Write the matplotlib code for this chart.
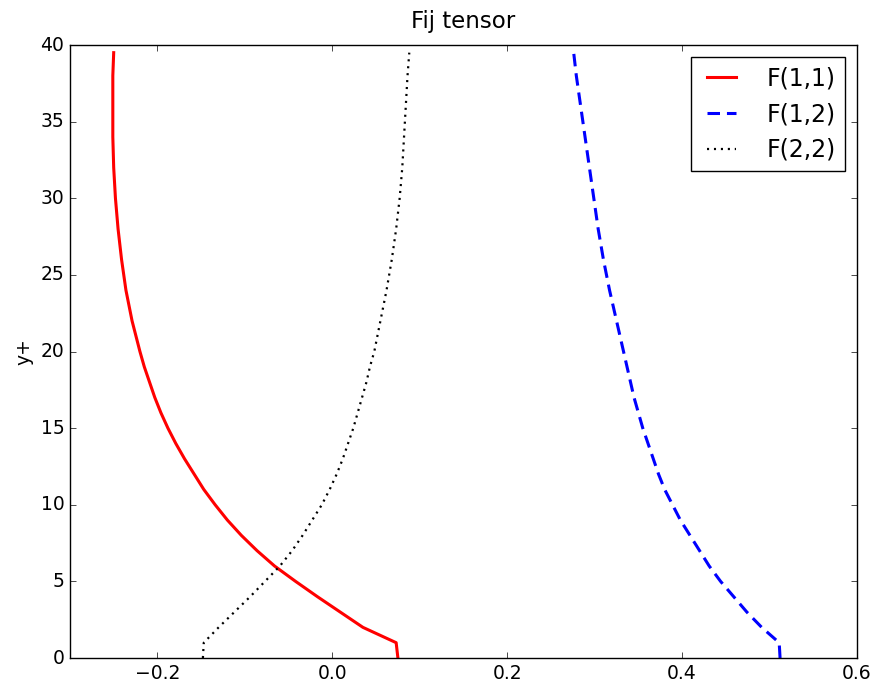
import matplotlib
matplotlib.use("Agg")
import matplotlib.pyplot as plt

# y+ positions and tensor components
yplus = [0, 1, 2, 3, 4, 5, 6, 7, 8, 9, 10, 11, 12, 13, 14, 15, 16, 17, 18, 19, 20,
         22, 24, 26, 28, 30, 32, 34, 36, 38, 39.5]
f11 = [0.075, 0.073, 0.035, 0.009, -0.017, -0.042, -0.066, -0.086, -0.104, -0.120,
       -0.134, -0.147, -0.158, -0.169, -0.179, -0.188, -0.196, -0.203, -0.209, -0.215,
       -0.220, -0.229, -0.236, -0.241, -0.245, -0.248, -0.250, -0.251, -0.251, -0.251, -0.250]
f12 = [0.512, 0.511, 0.491, 0.474, 0.459, 0.444, 0.431, 0.420, 0.409, 0.398,
       0.389, 0.380, 0.373, 0.367, 0.361, 0.355, 0.350, 0.345, 0.341, 0.337,
       0.333, 0.325, 0.317, 0.310, 0.304, 0.299, 0.294, 0.289, 0.284, 0.279, 0.276]
f22 = [-0.148, -0.147, -0.130, -0.112, -0.094, -0.077, -0.060, -0.046, -0.034, -0.023,
       -0.012, -0.003, 0.005, 0.012, 0.018, 0.024, 0.029, 0.034, 0.039, 0.043,
       0.048, 0.055, 0.062, 0.068, 0.073, 0.077, 0.080, 0.082, 0.084, 0.086, 0.088]

def main():
  plt.style.use("classic")
  fig = plt.figure(figsize=(8.79, 6.85), dpi=100, facecolor="white")
  ax = fig.add_axes([0.0796, 0.0394, 0.8954, 0.8949])
  ax.plot(f11, yplus, color="red", ls="-", lw=2.2, label="F(1,1)")
  ax.plot(f12, yplus, color="blue", ls="--", dashes=(9, 5), lw=2.2, label="F(1,2)")
  ax.plot(f22, yplus, color="black", ls=":", dashes=(1.5, 3.5), lw=1.6, label="F(2,2)")
  ax.set_xlim(-0.3, 0.6)
  ax.set_ylim(0, 40)
  ax.set_xticks([-0.2, 0.0, 0.2, 0.4, 0.6])
  ax.tick_params(labelsize=13.5)
  ax.set_ylabel("y+", fontsize=13.5)
  ax.set_title("Fij tensor", fontsize=16.5, pad=12)
  ax.legend(loc="upper right", fontsize=17, handlelength=1.8, handletextpad=1.0)
  fig.savefig("out.png", dpi=100, facecolor="white")

if __name__ == "__main__":
  main()
